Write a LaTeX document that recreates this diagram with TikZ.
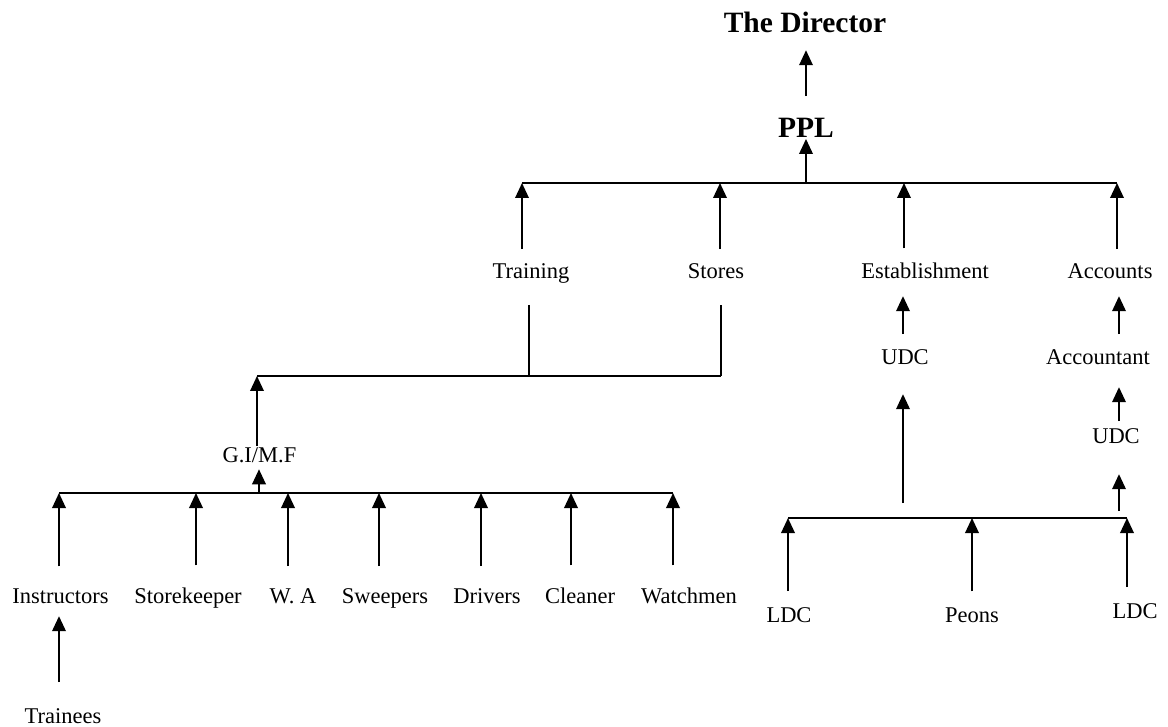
\documentclass[tikz,border=0pt]{standalone}
\usepackage{fontspec}
\setmainfont{Liberation Serif}
\usetikzlibrary{arrows.meta}

\begin{document}
\begin{tikzpicture}[x=1pt,y=-1pt,line width=1.9pt,
  lbl/.style={inner sep=0,anchor=base,font=\fontsize{22.5}{27}\selectfont},
  head/.style={lbl,font=\fontsize{29.5}{35}\selectfont\bfseries},
  arr/.style={-{Triangle[width=13.5pt,length=15pt]}}]
\useasboundingbox (0,0) rectangle (1168,727);
% top
\node[head] (dir) at (805,33) {The Director};
\node[head] (ppl) at (806,138) {PPL};
\node[lbl] (tr) at (531,279) {Training};
\node[lbl] (st) at (716,279) {Stores};
\node[lbl] (est) at (925,279) {Establishment};
\node[lbl] (acc) at (1110,279) {Accounts};
\coordinate (t0) at (806,183);
\coordinate (t1) at (522,183);
\coordinate (t2) at (720,183);
\coordinate (t3) at (904,183);
\coordinate (t4) at (1117,183);
\draw (t1) -- (t4);
\draw[arr] (t0) -- (ppl.south);
\draw[arr,shorten <=21.5pt,shorten >=16pt] (ppl.north) -- (ppl.north |- dir.south);
\foreach \n/\c in {tr/t1,st/t2,est/t3,acc/t4}
  \draw[arr,shorten <=14pt] (\n.north -| \c) -- (\c);
% training and stores
\node[lbl] (gim) at (259.5,462) {G.I/M.F};
\coordinate (m0) at (257,376);
\coordinate (m1) at (529,376);
\coordinate (m2) at (721,376);
\draw (m0) -- (m2);
\draw[shorten <=20pt] (tr.south -| m1) -- (m1);
\draw[shorten <=25pt] (st.south -| m2) -- (m2);
\draw[arr] (gim.north -| m0) -- (m0);
\foreach \n/\x/\t in {ins/60.6/Instructors,sk/188/Storekeeper,wa/293/W. A,sw/385/Sweepers,dr/487/Drivers,cl/580/Cleaner,wm/689/Watchmen}
  \node[lbl] (\n) at (\x,603) {\t};
\node[lbl] (trn) at (63,723) {Trainees};
\foreach \x [count=\i] in {59,196,288,379,481,571,673}
  \coordinate (b\i) at (\x,493);
\coordinate (g0) at (259,493);
\draw (b1) -- (b7);
\draw[arr,shorten >=6pt] (g0) -- (g0 |- gim.south);
\foreach \n [count=\i] in {ins,sk,wa,sw,dr,cl,wm}
  \draw[arr,shorten <=21pt] (\n.north -| b\i) -- (b\i);
\draw[arr,shorten <=25pt,shorten >=12pt] (trn.north -| b1) -- (ins.south -| b1);
% establishment and accounts
\node[lbl] (udc) at (905,365) {UDC};
\node[lbl] (actt) at (1098,365) {Accountant};
\node[lbl] (udcb) at (1116,443) {UDC};
\node[lbl] (ldca) at (789,622) {LDC};
\node[lbl] (pe) at (972,622) {Peons};
\node[lbl] (ldcb) at (1135,618) {LDC};
\coordinate (r0) at (903,518);
\coordinate (r1) at (788,518);
\coordinate (r2) at (972,518);
\coordinate (r3) at (1127,518);
\coordinate (r4) at (1119,518);
\draw (r1) -- (r3);
\foreach \n/\c in {ldca/r1,pe/r2,ldcb/r3}
  \draw[arr,shorten <=15pt] (\n.north -| \c) -- (\c);
\draw[arr,shorten <=15pt,shorten >=28pt] (r0) -- (r0 |- udc.south);
\draw[arr,shorten <=7pt,shorten >=30pt] (r4) -- (r4 |- udcb.south);
\draw[arr,shorten <=6pt,shorten >=21pt] (udcb.north -| r4) -- (r4 |- actt.south);
\draw[arr,shorten <=15pt,shorten >=16pt] (udc.north -| r0) -- (r0 |- est.south);
\draw[arr,shorten <=15pt,shorten >=16pt] (actt.north -| r4) -- (r4 |- acc.south);
\end{tikzpicture}
\end{document}
